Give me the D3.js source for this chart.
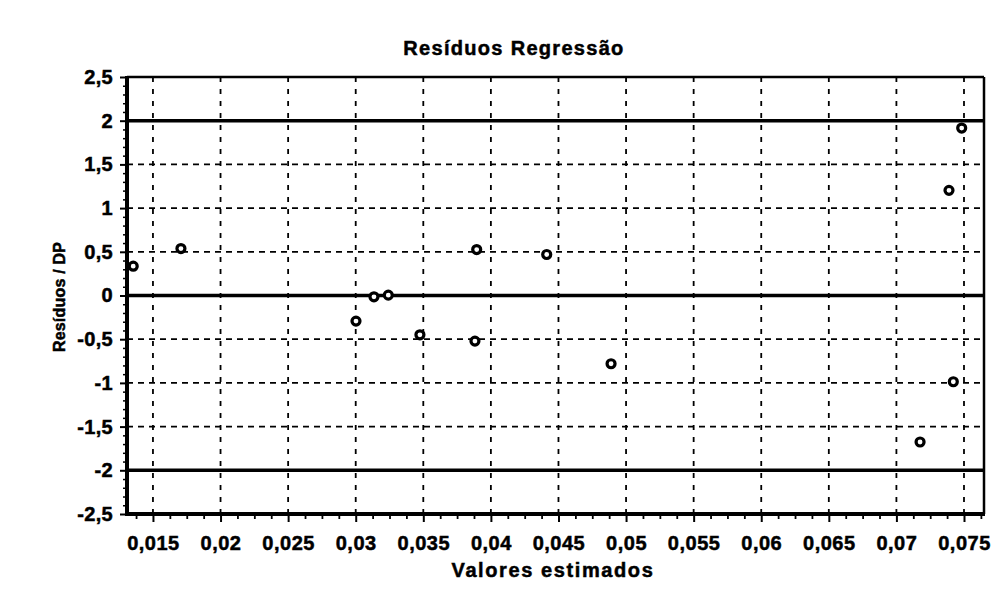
<!DOCTYPE html>
<html>
<head>
<meta charset="utf-8">
<script src="https://cdn.jsdelivr.net/npm/d3@7/dist/d3.min.js"></script>
<style>
  html, body { margin: 0; padding: 0; background: #fff; }
  svg { display: block; }
  text { font-family: "Liberation Sans", Arial, sans-serif; font-weight: bold; fill: #000; stroke: #000; stroke-width: 0.5px; }
</style>
</head>
<body>
<svg id="chart" width="1007" height="609"></svg>
<script>
// ---- data ----
const titleText = "Resíduos Regressão";
const xLabelText = "Valores estimados";
const yLabelText = "Resíduos / DP";
const xValues = [0.01354, 0.01707, 0.03002, 0.03135, 0.03241, 0.03475, 0.03882, 0.03895, 0.04413, 0.04889, 0.07175, 0.07389, 0.07421, 0.07483];
const yValues = [0.335, 0.537, -0.293, -0.015, 0.004, -0.45, -0.522, 0.526, 0.469, -0.781, -1.676, 1.203, -0.987, 1.916];
const xTicks = [0.015, 0.02, 0.025, 0.03, 0.035, 0.04, 0.045, 0.05, 0.055, 0.06, 0.065, 0.07, 0.075];
const yTicks = [-2.5, -2, -1.5, -1, -0.5, 0, 0.5, 1, 1.5, 2, 2.5];
const solidLines = [-2, 0, 2];
const xDomain = [0.01308, 0.07648];
const yDomain = [-2.5, 2.5];

// ---- layout ----
const L = 127, R = 984, T = 77, B = 514;
const svg = d3.select("#chart");
const x = d3.scaleLinear().domain(xDomain).range([L, R]);
const y = d3.scaleLinear().domain(yDomain).range([B, T]);
const fmt = v => String(+v.toFixed(4)).replace(".", ",");

const points = xValues.map((v, i) => ({ x: v, y: yValues[i] }));

// dashed grid
const grid = svg.append("g");
grid.selectAll("line.v").data(xTicks).join("line")
  .attr("x1", d => x(d)).attr("x2", d => x(d))
  .attr("y1", T).attr("y2", B)
  .attr("stroke", "#000").attr("stroke-width", 1.8).attr("stroke-dasharray", "5,7");
grid.selectAll("line.h").data(yTicks.filter(d => !solidLines.includes(d) && Math.abs(d) !== 2.5)).join("line")
  .attr("x1", L).attr("x2", R)
  .attr("y1", d => y(d)).attr("y2", d => y(d))
  .attr("stroke", "#000").attr("stroke-width", 1.8).attr("stroke-dasharray", "6,5");

// solid reference lines
svg.append("g").selectAll("line").data(solidLines).join("line")
  .attr("x1", L).attr("x2", R)
  .attr("y1", d => y(d)).attr("y2", d => y(d))
  .attr("stroke", "#000").attr("stroke-width", 3.5);

// frame top and right
svg.append("line").attr("x1", L).attr("x2", R).attr("y1", y(2.5)).attr("y2", y(2.5))
  .attr("stroke", "#000").attr("stroke-width", 2.5);
svg.append("line").attr("x1", x(xDomain[1])).attr("x2", x(xDomain[1])).attr("y1", T).attr("y2", B)
  .attr("stroke", "#000").attr("stroke-width", 2.5);

// minor ticks x
const xMinor = d3.range(0, 60).map(i => 0.01375 + i * 0.00125).filter(v => v <= xDomain[1] && !xTicks.some(t => Math.abs(t - v) < 1e-6));
svg.append("g").attr("transform", `translate(0,${B})`)
  .call(d3.axisBottom(x).tickValues(xMinor).tickSize(5).tickFormat(""))
  .call(g => g.select(".domain").remove())
  .call(g => g.selectAll("line").attr("stroke-width", 1.8));
// minor ticks y
const yMinor = d3.range(-25, 26).map(i => i / 10).filter(v => !yTicks.some(t => Math.abs(t - v) < 1e-6));
svg.append("g").attr("transform", `translate(${L},0)`)
  .call(d3.axisLeft(y).tickValues(yMinor).tickSize(4).tickFormat(""))
  .call(g => g.select(".domain").remove())
  .call(g => g.selectAll("line").attr("stroke-width", 1.5));

// x axis
const xAxis = svg.append("g").attr("transform", `translate(0,${B})`)
  .call(d3.axisBottom(x).tickValues(xTicks).tickSize(8).tickPadding(14).tickFormat(fmt));
xAxis.select(".domain").remove();
xAxis.selectAll("line").attr("stroke-width", 2);
xAxis.selectAll("text").attr("font-size", 20).attr("letter-spacing", 0.5)
  .style("font-family", "'Liberation Sans', Arial, sans-serif").style("font-weight", "bold");

// y axis
const yAxis = svg.append("g").attr("transform", `translate(${L},0)`)
  .call(d3.axisLeft(y).tickValues(yTicks).tickSize(7).tickPadding(7).tickFormat(fmt));
yAxis.select(".domain").remove();
yAxis.selectAll("line").attr("stroke-width", 2);
yAxis.selectAll("text").attr("font-size", 20).attr("letter-spacing", 0.3)
  .style("font-family", "'Liberation Sans', Arial, sans-serif").style("font-weight", "bold");

// axis lines (thick)
svg.append("line").attr("x1", L).attr("x2", R + 1).attr("y1", B).attr("y2", B)
  .attr("stroke", "#000").attr("stroke-width", 4);
svg.append("line").attr("x1", L).attr("x2", L).attr("y1", T - 1).attr("y2", B + 2)
  .attr("stroke", "#000").attr("stroke-width", 4);

// points
svg.append("g").selectAll("circle").data(points).join("circle")
  .attr("cx", d => x(d.x)).attr("cy", d => y(d.y)).attr("r", 4)
  .attr("fill", "#fff").attr("stroke", "#000").attr("stroke-width", 3.2);

// titles
svg.append("text").attr("x", 514).attr("y", 55).attr("text-anchor", "middle")
  .attr("font-size", 20).attr("letter-spacing", 1.3).text(titleText);
svg.append("text").attr("x", 553).attr("y", 577).attr("text-anchor", "middle")
  .attr("font-size", 20).attr("letter-spacing", 1.6).text(xLabelText);
svg.append("text").attr("transform", "translate(65,297) rotate(-90)").attr("text-anchor", "middle")
  .attr("font-size", 16).attr("letter-spacing", 0.2).text(yLabelText);
</script>
</body>
</html>
